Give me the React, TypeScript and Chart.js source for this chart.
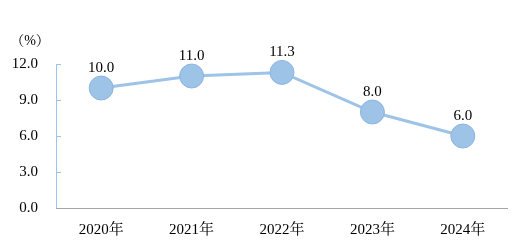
import React, { useEffect, useRef } from "react";
import { Chart, registerables } from "chart.js";

Chart.register(...registerables);

const categories = ["2020年", "2021年", "2022年", "2023年", "2024年"];
const values = [10.0, 11.0, 11.3, 8.0, 6.0];
const yTicks = [0, 3, 6, 9, 12];
const unitLabel = "（%）";

const SERIF = "'Times New Roman', 'Liberation Serif', 'Noto Serif CJK SC', serif";

const decorPlugin = {
  id: "decor",
  beforeDatasetsDraw(chart: any) {
    const ctx = chart.ctx;
    const { left, right, bottom } = chart.chartArea;
    ctx.save();
    ctx.strokeStyle = "#a6a6a6";
    ctx.lineWidth = 1;
    ctx.beginPath();
    ctx.moveTo(left, Math.round(bottom) + 0.5);
    ctx.lineTo(right, Math.round(bottom) + 0.5);
    ctx.stroke();
    ctx.restore();
  },
  afterDatasetsDraw(chart: any) {
    const ctx = chart.ctx;
    const meta = chart.getDatasetMeta(0);
    const y = chart.scales.y;
    ctx.save();
    ctx.strokeStyle = "#9dc3e6";
    ctx.lineWidth = 1;
    yTicks.forEach((v) => {
      const py = Math.round(y.getPixelForValue(v)) + 0.5;
      if (v === 0) return;
      ctx.beginPath();
      ctx.moveTo(chart.chartArea.left, py);
      ctx.lineTo(chart.chartArea.left + 5, py);
      ctx.stroke();
    });
    ctx.fillStyle = "#000";
    ctx.font = `15px ${SERIF}`;
    ctx.textAlign = "center";
    ctx.textBaseline = "middle";
    meta.data.forEach((pt: any, i: number) => {
      ctx.fillText(values[i].toFixed(1), pt.x, pt.y - 20);
    });
    ctx.font = `14px ${SERIF}`;
    ctx.fillText(unitLabel, 30, 41);
    ctx.restore();
  },
};

export default function App() {
  const ref = useRef<HTMLCanvasElement>(null);
  useEffect(() => {
    if (!ref.current) return;
    const chart = new Chart(ref.current, {
      type: "line",
      data: {
        labels: categories,
        datasets: [
          {
            data: values,
            borderColor: "#9dc3e6",
            borderWidth: 3,
            pointRadius: 12,
            pointHoverRadius: 12,
            pointBackgroundColor: "#9dc3e6",
            pointBorderColor: "#8db4e2",
            pointBorderWidth: 1,
            tension: 0,
            clip: false as any,
          },
        ],
      },
      plugins: [decorPlugin],
      options: {
        animation: false,
        responsive: false,
        maintainAspectRatio: false,
        layout: { autoPadding: false, padding: { top: 64, right: 4, left: 0, bottom: 0 } },
        plugins: { legend: { display: false }, tooltip: { enabled: false } },
        scales: {
          x: {
            offset: true,
            grid: { display: false, drawTicks: false },
            border: { display: false },
            ticks: {
              color: "#000",
              font: { family: SERIF, size: 15 },
              padding: 13,
              maxRotation: 0,
            },
            afterFit: (s: any) => {
              s.height = 36;
            },
          },
          y: {
            min: 0,
            max: 12,
            afterBuildTicks: (s: any) => {
              s.ticks = yTicks.map((v) => ({ value: v }));
            },
            grid: { display: false, drawTicks: false },
            border: { display: true, color: "#9dc3e6", width: 1 },
            ticks: {
              color: "#000",
              font: { family: SERIF, size: 15 },
              padding: 18,
              callback: (v: any) => Number(v).toFixed(1),
            },
            afterFit: (s: any) => {
              s.width = 56;
            },
          },
        },
      },
    });
    return () => chart.destroy();
  }, []);
  return (
    <div style={{ position: "fixed", left: 0, top: 0, width: 512, height: 244, background: "#fff" }}>
      <canvas ref={ref} width={512} height={244} style={{ width: 512, height: 244 }} />
    </div>
  );
}
